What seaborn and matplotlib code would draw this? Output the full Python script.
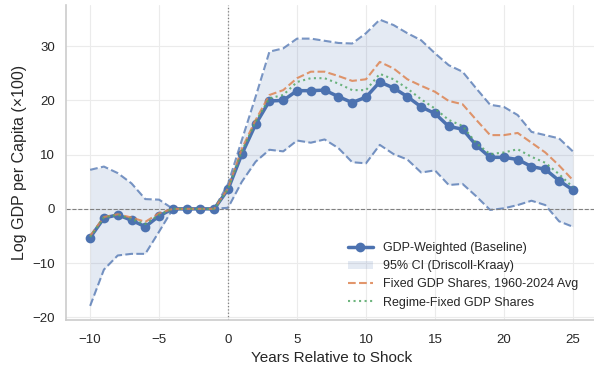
import matplotlib
matplotlib.use("Agg")
import matplotlib.pyplot as plt
import seaborn as sns
import numpy as np
import pandas as pd

years = list(range(-10, 26))

baseline = [-5.3, -1.7, -1.1, -2.1, -3.3, -1.3, 0.0, 0.0, 0.0, 0.0,
            3.6, 10.1, 15.6, 19.9, 20.0, 21.8, 21.8, 21.9, 20.7, 19.6,
            20.6, 23.4, 22.3, 20.7, 18.8, 17.6, 15.2, 14.7, 11.7, 9.5,
            9.5, 9.1, 7.8, 7.3, 5.2, 3.5]

ci_upper = [7.2, 7.8, 6.6, 4.7, 1.8, 1.7, 0.0, 0.0, 0.0, 0.0,
            4.6, 12.7, 20.7, 29.0, 29.6, 31.4, 31.4, 31.0, 30.6, 30.5,
            32.4, 34.9, 33.9, 32.4, 31.1, 28.7, 26.5, 25.3, 22.2, 19.2,
            18.8, 17.3, 14.2, 13.6, 13.0, 10.6]

ci_lower = [-17.9, -11.2, -8.6, -8.3, -8.3, -4.2, 0.0, 0.0, 0.0, 0.0,
            0.2, 5.0, 8.7, 10.9, 10.6, 12.6, 12.2, 12.8, 11.2, 8.6,
            8.4, 11.8, 10.1, 9.1, 6.7, 7.1, 4.4, 4.6, 2.3, -0.2,
            0.1, 0.7, 1.5, 0.7, -2.3, -3.3]

fixed_avg = [-5.0, -1.5, -1.0, -1.6, -2.4, -0.8, 0.0, 0.0, 0.0, 0.0,
             3.8, 11.1, 16.4, 21.0, 21.9, 24.1, 25.3, 25.3, 24.5, 23.6,
             23.9, 27.1, 25.9, 23.9, 22.7, 21.6, 19.9, 19.3, 16.4, 13.6,
             13.6, 14.0, 12.2, 10.4, 8.0, 5.3]

regime_fixed = [-5.2, -1.6, -1.1, -1.9, -2.8, -1.1, 0.0, 0.0, 0.0, 0.0,
                3.7, 10.6, 16.1, 20.4, 21.0, 23.4, 24.1, 24.1, 23.1, 21.9,
                21.9, 24.9, 23.9, 22.2, 20.2, 18.5, 16.4, 15.3, 12.1, 10.1,
                10.4, 11.0, 9.6, 8.5, 6.4, 4.0]

x_ticks = [-10, -5, 0, 5, 10, 15, 20, 25]
y_ticks = [-20, -10, 0, 10, 20, 30]

df = pd.DataFrame({
    "year": years,
    "baseline": baseline,
    "upper": ci_upper,
    "lower": ci_lower,
    "fixed": fixed_avg,
    "regime": regime_fixed,
})

sns.set_theme(style="whitegrid")
plt.rcParams["font.family"] = ["Liberation Sans", "DejaVu Sans"]
pal = sns.color_palette("deep")
blue, orange, green = pal[0], pal[1], pal[2]

W, H = 594, 368
fig = plt.figure(figsize=(W / 100, H / 100), dpi=100)
ax = fig.add_axes([66 / W, (H - 320) / H, (597 - 66) / W, (320 - 5) / H])

ax.fill_between(df["year"], df["lower"], df["upper"], color=blue, alpha=0.15,
                linewidth=0, label="95% CI (Driscoll-Kraay)")
sns.lineplot(data=df, x="year", y="upper", ax=ax, color=blue, alpha=0.75,
             linestyle="--", linewidth=1.5, legend=False)
sns.lineplot(data=df, x="year", y="lower", ax=ax, color=blue, alpha=0.75,
             linestyle="--", linewidth=1.5, legend=False)

ax.axhline(0, color="gray", linestyle="--", linewidth=0.8)
ax.axvline(0, color="gray", linestyle=":", linewidth=0.9)

sns.lineplot(data=df, x="year", y="baseline", ax=ax, color=blue, linewidth=2.5,
             marker="o", markersize=7, markeredgewidth=0,
             label="GDP-Weighted (Baseline)")
sns.lineplot(data=df, x="year", y="fixed", ax=ax, color=orange, linewidth=1.5,
             linestyle="--", alpha=0.85, label="Fixed GDP Shares, 1960-2024 Avg")
sns.lineplot(data=df, x="year", y="regime", ax=ax, color=green, linewidth=1.5,
             linestyle=":", alpha=0.85, label="Regime-Fixed GDP Shares")

handles, labels = ax.get_legend_handles_labels()
order = ["GDP-Weighted (Baseline)", "95% CI (Driscoll-Kraay)",
         "Fixed GDP Shares, 1960-2024 Avg", "Regime-Fixed GDP Shares"]
hmap = dict(zip(labels, handles))
ax.legend([hmap[k] for k in order], order, loc="lower right", frameon=False,
          fontsize=9, bbox_to_anchor=(0.985, 0.0))

ax.set_xlim(-11.75, 26.75)
ax.set_ylim(-20.5, 37.6)
ax.set_xlabel("Years Relative to Shock", fontsize=11)
ax.set_ylabel("Log GDP per Capita (×100)", fontsize=11.5, labelpad=4)
ax.set_xticks(x_ticks)
ax.set_yticks(y_ticks)
ax.tick_params(axis="y", labelsize=9.5, pad=2)
ax.tick_params(axis="x", labelsize=9.5, pad=4)
ax.grid(True, color="#ebebeb", linewidth=0.8)
sns.despine(ax=ax, top=True, right=True)
for s in ["left", "bottom"]:
    ax.spines[s].set_color("#cccccc")
    ax.spines[s].set_linewidth(1.2)

fig.savefig("out.png", dpi=100)
